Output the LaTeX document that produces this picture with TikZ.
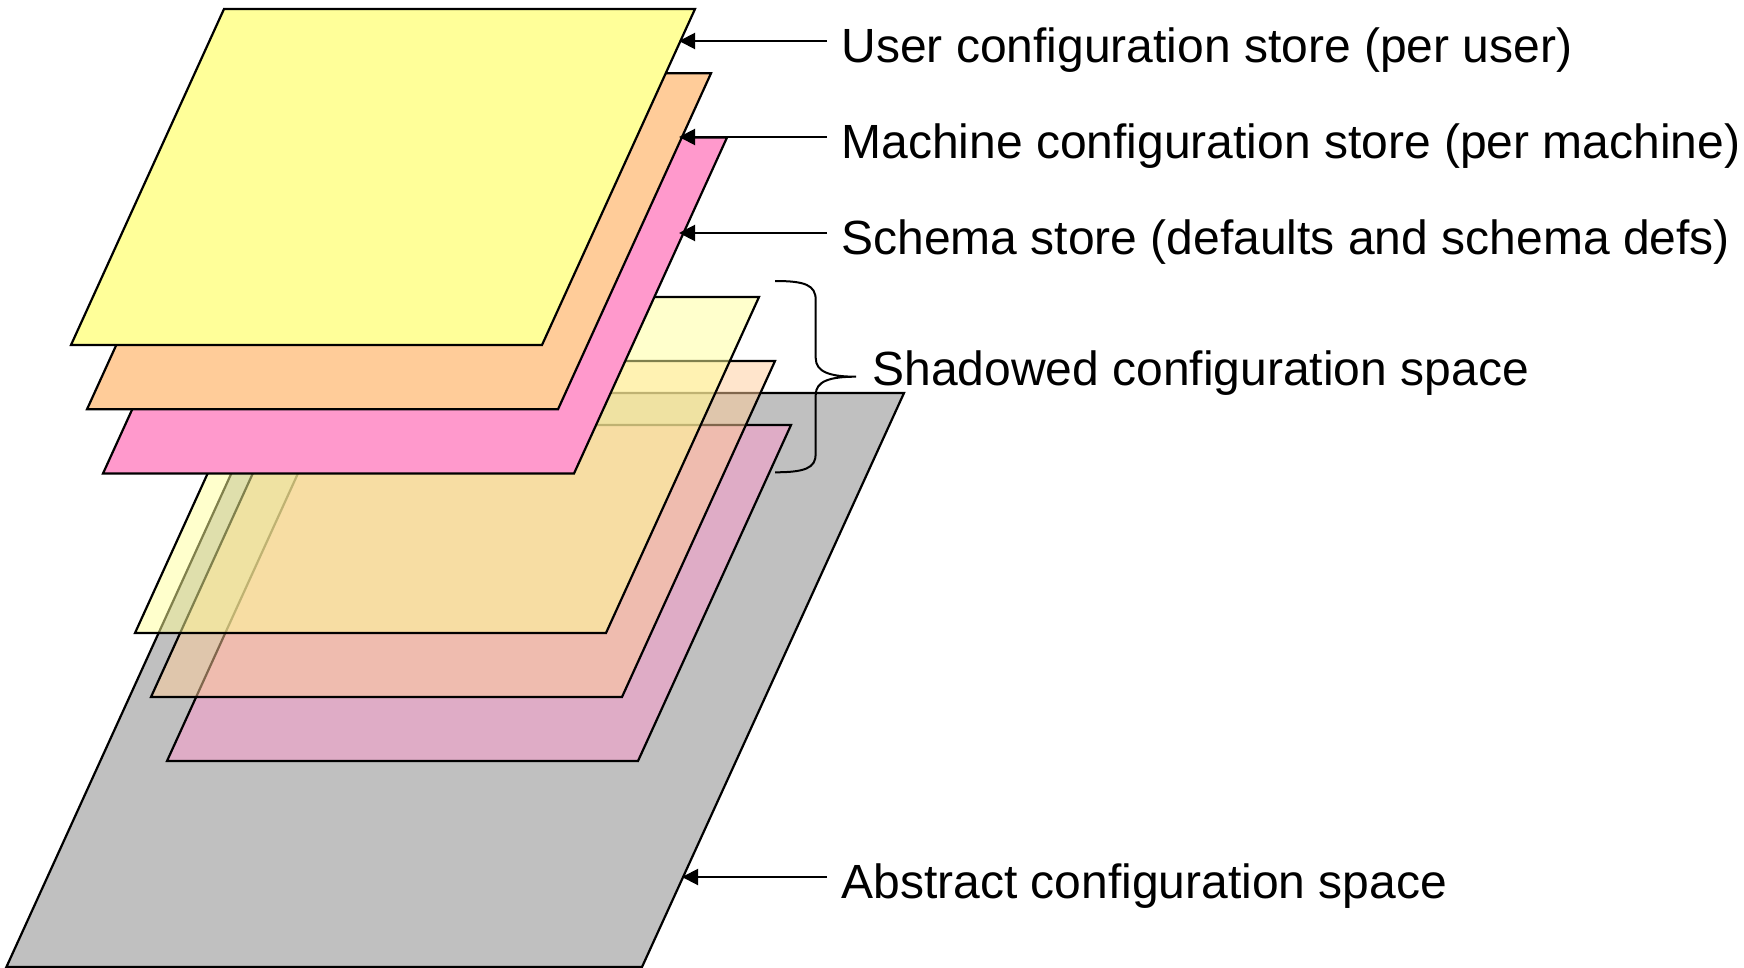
\documentclass[tikz,border=0pt]{standalone}
\usepackage{fontspec}
\setmainfont{Liberation Sans}
\usetikzlibrary{arrows.meta}
\definecolor{pyellow}{HTML}{FFFF99}
\definecolor{porange}{HTML}{FFCC99}
\definecolor{ppink}{HTML}{FF99CC}
\definecolor{pgray}{HTML}{C0C0C0}
\begin{document}
\begin{tikzpicture}[x=0.5pt,y=-0.5pt,
  plane/.style={draw=black,line width=1.1pt,line join=miter},
  ghost/.style={plane,fill opacity=0.5},
  lbl/.style={font=\fontsize{24pt}{28pt}\selectfont,anchor=base west,inner xsep=7pt,inner ysep=0pt},
  arr/.style={draw=black,line width=1pt,-{Triangle[length=8pt,width=8pt]}},
  bracestyle/.style={draw=black,line width=1pt}
  ]
\useasboundingbox (0,0) rectangle (1744,968);
% abstract configuration space
\draw[plane,fill=pgray] (268,393) -- (904,393) -- (642,967) -- (6.4,967) -- cycle;
% shadowed planes
\draw[ghost,fill=ppink]   (320,425) -- (791,425) -- (638,761) -- (167,761) -- cycle;
\draw[ghost,fill=porange] (304,361) -- (775,361) -- (622,697) -- (151,697) -- cycle;
\draw[ghost,fill=pyellow] (288,297) -- (759,297) -- (606,633) -- (135,633) -- cycle;
% stores
\draw[plane,fill=ppink]   (256,137.5) -- (727,137.5) -- (574,473.5) -- (103,473.5) -- cycle;
\draw[plane,fill=porange] (240,73.3) -- (711,73.3) -- (558,409.3) -- (87,409.3) -- cycle;
\draw[plane,fill=pyellow] (224,9) -- (695,9) -- (542,345) -- (71,345) -- cycle;
% arrow targets
\coordinate (t1) at (679,41);
\coordinate (t2) at (679,137);
\coordinate (t3) at (679,233);
\coordinate (t4) at (682,877);
% labels
\node[lbl] (l1) at (827,63) {User configuration store (per user)};
\node[lbl] (l2) at (827,158.5) {Machine configuration store (per machine)};
\node[lbl] (l3) at (827,254.5) {Schema store (defaults and schema defs)};
\node[lbl] (l4) at (827,898.5) {Abstract configuration space};
\node[lbl] (l5) at (858,385) {Shadowed configuration space};
% arrows
\draw[arr] (l1.west |- t1) -- (t1);
\draw[arr] (l2.west |- t2) -- (t2);
\draw[arr] (l3.west |- t3) -- (t3);
\draw[arr] (l4.west |- t4) -- (t4);
% brace
\coordinate (btop) at (775,281);
\coordinate (btip) at (856,376.7);
\coordinate (bbot) at (775,472.3);
\draw[bracestyle] (btop) .. controls (805,281) and (815.7,285) .. (815.7,300) -- (815.7,358)
  .. controls (815.7,372) and (830,376.7) .. (btip)
  .. controls (830,376.7) and (815.7,381) .. (815.7,395) -- (815.7,454)
  .. controls (815.7,468) and (805,472.3) .. (bbot);
\end{tikzpicture}
\end{document}
